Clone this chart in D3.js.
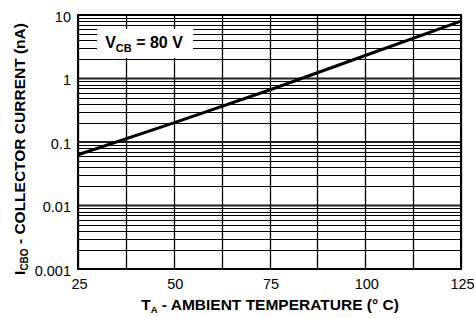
<!DOCTYPE html>
<html lang="en">
<head>
<meta charset="UTF-8">
<title>ICBO vs TA</title>
<script src="https://d3js.org/d3.v7.min.js"></script>
<style>
  body { margin: 0; background: #fff; }
  svg { display: block; }
  text { font-family: "Liberation Sans", Arial, sans-serif; fill: #000; }
  .tick { font-size: 14.5px; }
  .title { font-size: 15.5px; font-weight: bold; }
</style>
</head>
<body>
<svg width="476" height="318"></svg>
<script>
  // temperature (deg C) vs collector cut-off current (nA)
  const tempC = [25, 50, 75, 100, 125];
  const icboNA = [0.063, 0.2, 0.66, 2.3, 8.0];
  const xTicks = [25, 50, 75, 100, 125];
  const yTicks = [0.001, 0.01, 0.1, 1, 10];
  const yTickLabels = ["0.001", "0.01", "0.1", "1", "10"];

  const svg = d3.select("svg");
  const pLeft = 78, pRight = 461, pTop = 15, pBottom = 269;

  const x = d3.scaleLinear().domain([25, 125]).range([pLeft, pRight]);
  const y = d3.scaleLog().domain([0.001, 10]).range([pBottom, pTop]);

  const grid = svg.append("g");

  // minor horizontal lines (2..9 of each decade)
  const minor = [];
  for (let d = 0.001; d < 10; d *= 10)
    for (let k = 2; k <= 9; k++) minor.push(+(d * k).toPrecision(3));

  grid.selectAll(".minor").data(minor).enter().append("line")
    .attr("x1", pLeft).attr("x2", pRight)
    .attr("y1", d => Math.round(y(d)) + 0.5).attr("y2", d => Math.round(y(d)) + 0.5)
    .attr("stroke", "#000").attr("stroke-width", 1);

  // decade lines, heavier
  grid.selectAll(".major").data(yTicks).enter().append("line")
    .attr("x1", pLeft).attr("x2", pRight)
    .attr("y1", d => y(d)).attr("y2", d => y(d))
    .attr("stroke", "#222").attr("stroke-width", 2.2);

  // vertical lines every 12.5 deg
  grid.selectAll(".vert").data(d3.range(25, 125.1, 12.5)).enter().append("line")
    .attr("y1", pTop).attr("y2", pBottom)
    .attr("x1", d => Math.round(x(d)) + 0.5).attr("x2", d => Math.round(x(d)) + 0.5)
    .attr("stroke", "#000").attr("stroke-width", 1.3);

  // frame
  svg.append("rect").attr("x", pLeft).attr("y", pTop)
    .attr("width", pRight - pLeft).attr("height", pBottom - pTop)
    .attr("fill", "none").attr("stroke", "#000").attr("stroke-width", 2);

  // condition box
  svg.append("rect").attr("x", 97).attr("y", 29).attr("width", 96).attr("height", 29)
    .attr("fill", "#fff");
  const vcb = svg.append("text").attr("x", 144).attr("y", 47.5)
    .attr("text-anchor", "middle").attr("font-size", 16).attr("font-weight", "bold");
  vcb.append("tspan").text("V");
  vcb.append("tspan").attr("font-size", 11).attr("dy", 4).text("CB");
  vcb.append("tspan").attr("dy", -4).text(" = 80 V");

  // curve
  const line = d3.line().x(d => x(d[0])).y(d => y(d[1]));
  svg.append("path").datum(tempC.map((t, i) => [t, icboNA[i]]))
    .attr("d", line).attr("fill", "none")
    .attr("stroke", "#000").attr("stroke-width", 3);

  // tick labels
  svg.selectAll(".xt").data(xTicks).enter().append("text")
    .attr("class", "tick").attr("x", d => x(d) + 1.5).attr("y", 289)
    .attr("text-anchor", "middle").text(d => d);

  svg.selectAll(".yt").data(yTicks).enter().append("text")
    .attr("class", "tick").attr("font-size", 15).attr("x", 71).attr("y", d => y(d) + 6.5)
    .attr("text-anchor", "end").text((d, i) => yTickLabels[i]);

  // axis titles
  const xt = svg.append("text").attr("class", "title")
    .attr("x", 270).attr("y", 310).attr("text-anchor", "middle");
  xt.append("tspan").text("T");
  xt.append("tspan").attr("font-size", 9.5).attr("dy", 3).text("A");
  xt.append("tspan").attr("dy", -3).text(" - AMBIENT TEMPERATURE (° C)");

  const yt = svg.append("text").attr("class", "title").attr("font-size", 16)
    .attr("transform", "translate(25,149) rotate(-90)").attr("text-anchor", "middle");
  yt.append("tspan").text("I");
  yt.append("tspan").attr("font-size", 10).attr("dy", 3).text("CBO");
  yt.append("tspan").attr("dy", -3).text(" - COLLECTOR CURRENT (nA)");
</script>
</body>
</html>
